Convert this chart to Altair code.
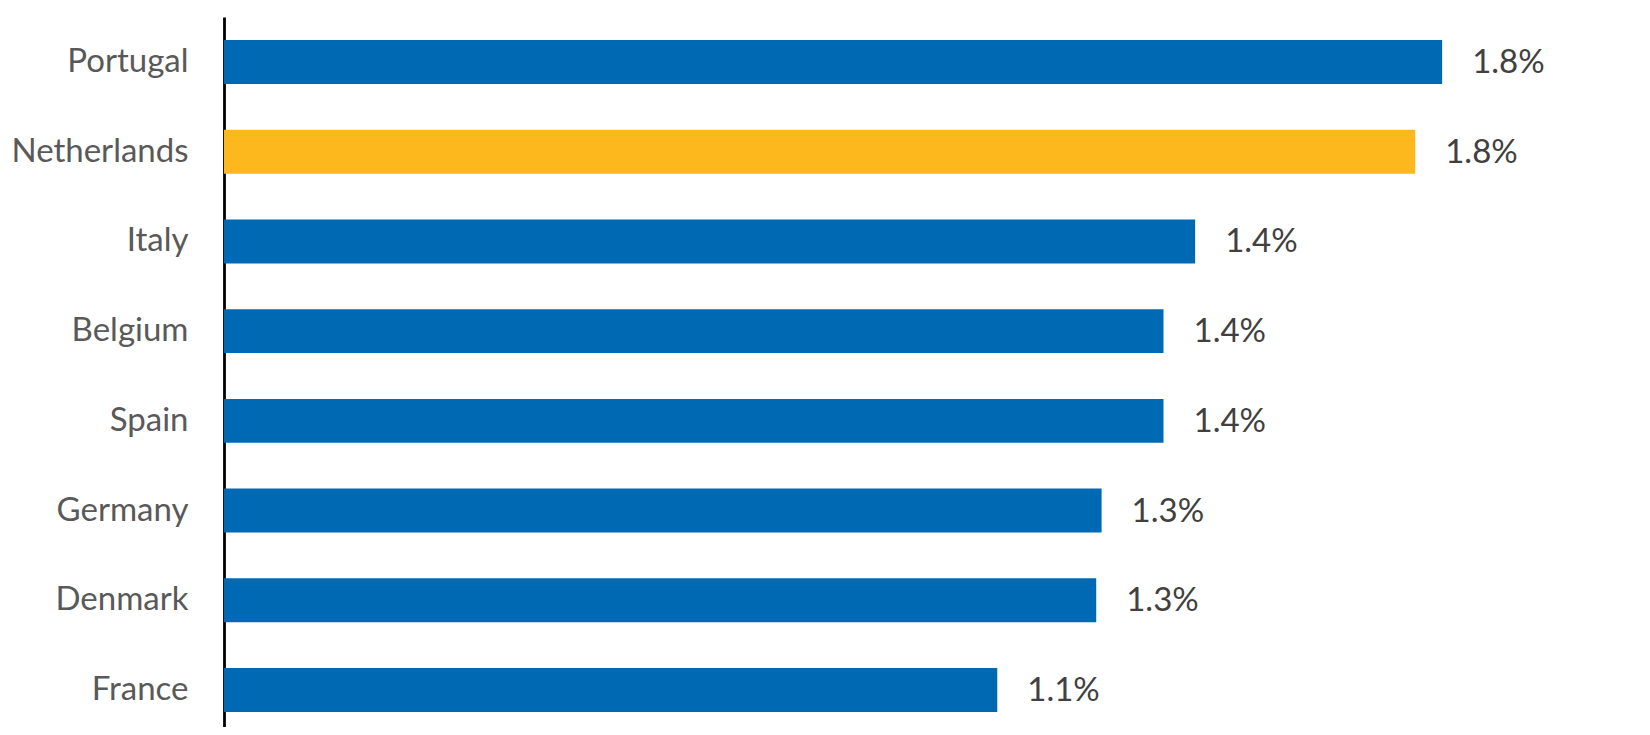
import altair as alt
import pandas as pd

countries = ["Portugal", "Netherlands", "Italy", "Belgium", "Spain", "Germany", "Denmark", "France"]
values = [1.81, 1.77, 1.443, 1.396, 1.396, 1.304, 1.296, 1.149]
groups = ["Other", "Netherlands", "Other", "Other", "Other", "Other", "Other", "Other"]

df = pd.DataFrame({"country": countries, "value": values, "group": groups})

FONT = "Lato"

y_enc = alt.Y(
    "country:N",
    sort=countries,
    title=None,
    scale=alt.Scale(range=[0, 718], paddingInner=0.51, paddingOuter=0.256),
    axis=alt.Axis(
        domain=True,
        domainColor="#000000",
        domainWidth=2.8,
        ticks=False,
        grid=False,
        labelFont=FONT,
        labelFontSize=33,
        labelColor="#595959",
        labelPadding=36,
        labelLimit=400,
    ),
)

x_enc = alt.X(
    "value:Q",
    title=None,
    scale=alt.Scale(domain=[0, 2.0], nice=False, zero=True),
    axis=None,
)

bars = alt.Chart(df).mark_bar().encode(
    x=x_enc,
    y=y_enc,
    color=alt.Color(
        "group:N",
        scale=alt.Scale(domain=["Other", "Netherlands"], range=["#0069B4", "#FDB81E"]),
        legend=None,
    ),
)

labels = alt.Chart(df).transform_calculate(
    label="format(datum.value, '.1f') + '%'"
).mark_text(
    align="left", baseline="middle", dx=30, dy=1, font=FONT, fontSize=33, color="#404040"
).encode(
    x=x_enc,
    y=y_enc,
    text="label:N",
)

chart = (
    alt.layer(bars, labels)
    .properties(
        width=1346,
        height=710,
        padding={"left": 216, "top": 9, "right": 60, "bottom": 0},
        autosize=alt.AutoSizeParams(type="none"),
    )
    .configure(background="white", view=alt.ViewConfig(strokeWidth=0, stroke="transparent"))
)

chart.save("out.html", embed_options={"renderer": "svg", "actions": False})
